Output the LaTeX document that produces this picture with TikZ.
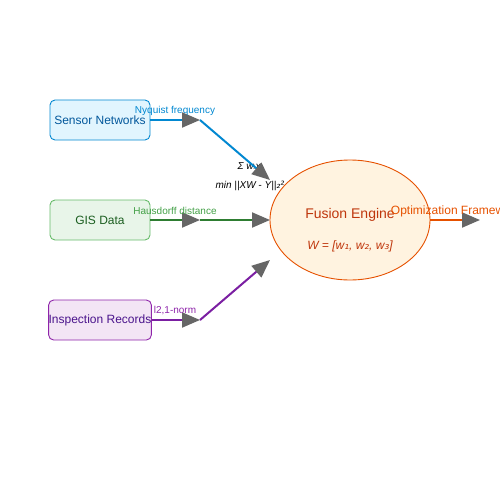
\documentclass[tikz,border=0pt]{standalone}
\usepackage{fontspec}
\setmainfont{Liberation Sans}
\newfontfamily\dvs{DejaVu Sans}
\usetikzlibrary{arrows.meta,backgrounds,shapes.geometric}
\definecolor{sbfill}{HTML}{E1F5FE}\definecolor{sbdraw}{HTML}{0288D1}\definecolor{sbtext}{HTML}{01579B}
\definecolor{gbfill}{HTML}{E8F5E9}\definecolor{gbdraw}{HTML}{66BB6A}\definecolor{gbtext}{HTML}{1B5E20}\definecolor{gline}{HTML}{2E7D32}\definecolor{glab}{HTML}{43A047}
\definecolor{pbfill}{HTML}{F3E5F5}\definecolor{pbdraw}{HTML}{8E24AA}\definecolor{pbtext}{HTML}{4A148C}\definecolor{pline}{HTML}{7B1FA2}\definecolor{plab}{HTML}{8E24AA}
\definecolor{efill}{HTML}{FFF3E0}\definecolor{edraw}{HTML}{E65100}\definecolor{etext}{HTML}{BF360C}\definecolor{oline}{HTML}{E65100}
\definecolor{tipgray}{HTML}{666666}
\tikzset{
  srcbox/.style={draw, rounded corners=5pt, line width=0.9pt, minimum width=100pt, minimum height=40pt, inner sep=0pt, font=\fontsize{12}{14}\selectfont},
  flow/.style={line width=2pt, -{Triangle[length=18pt, width=15pt, color=tipgray]}},
  lab/.style={font=\fontsize{10}{12}\selectfont, inner sep=0pt},
  formula/.style={font=\fontsize{10}{12}\selectfont\itshape, inner sep=0pt}
}
\begin{document}
\begin{tikzpicture}[x=1pt,y=-1pt]
\useasboundingbox (0,0) rectangle (500,500);
\node[srcbox, fill=sbfill, draw=sbdraw, text=sbtext] (sn) at (100,120) {Sensor Networks};
\node[srcbox, fill=gbfill, draw=gbdraw, text=gbtext] (gis) at (100,220) {GIS Data};
\node[srcbox, fill=pbfill, draw=pbdraw, text=pbtext] (ir) at (100,320) {Inspection Records};
\node[ellipse, draw=edraw, fill=efill, line width=0.9pt, minimum width=160pt, minimum height=120pt, inner sep=0pt] (fe) at (350,220) {};
\node[text=etext, font=\fontsize{14}{16}\selectfont, inner sep=0pt] (fet) at (350,215) {Fusion Engine};
\node[text=etext, font=\fontsize{12}{14}\selectfont\itshape, inner sep=0pt] (few) at (350,246) {W = [w{\dvs\itshape ₁}, w{\dvs\itshape ₂}, w{\dvs\itshape ₃}]};
\coordinate (j1) at (200,120); \coordinate (t1) at (270,180);
\coordinate (j2) at (200,220); \coordinate (t2) at (270,220);
\coordinate (j3) at (200,320); \coordinate (t3) at (270,260);
\coordinate (fo) at (430,220); \coordinate (out) at (480,220);
\begin{scope}[on background layer]
\node[formula] (f1) at (250,166) {Σ w{\dvs\itshape ᵢ}x{\dvs\itshape ᵢ}};
\node[formula] (f2) at (250,186) {min ||XW - Y||{\dvs\itshape ₂²}};
\end{scope}
\draw[flow, draw=sbdraw] (sn.east) -- (j1);
\draw[flow, draw=sbdraw] (j1) -- (t1);
\draw[flow, draw=gline] (gis.east) -- (j2);
\draw[flow, draw=gline] (j2) -- (t2);
\draw[flow, draw=pline] (ir.east) -- (j3);
\draw[flow, draw=pline] (j3) -- (t3);
\draw[flow, draw=oline] (fo) -- (out);
\node[lab, text=sbdraw] (l1) at (175,111) {Nyquist frequency};
\node[lab, text=glab] (l2) at (175,211) {Hausdorff distance};
\node[lab, text=plab] (l3) at (175,311) {l2,1-norm};
\node[text=oline, font=\fontsize{12}{14}\selectfont, inner sep=0pt] (lo) at (456,211) {Optimization Framework};
\end{tikzpicture}
\end{document}
